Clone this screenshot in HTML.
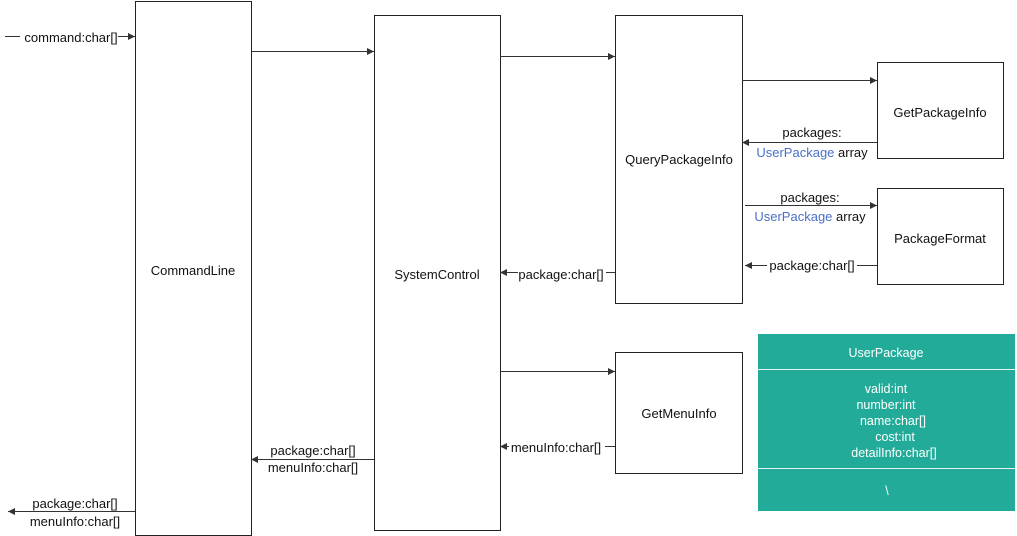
<!DOCTYPE html>
<html><head><meta charset="utf-8"><style>
html,body{margin:0;padding:0;background:#fff;width:1017px;height:536px;overflow:hidden}
text{font-family:"Liberation Sans",sans-serif;font-size:13px;fill:#111}
</style></head><body>
<svg width="1017" height="536" xmlns="http://www.w3.org/2000/svg">
<defs><marker id="a" markerWidth="8" markerHeight="8" refX="7" refY="4" orient="auto" markerUnits="userSpaceOnUse"><path d="M0,0.5 L7,4 L0,7.5 Z" fill="#333"/></marker></defs>
<g fill="#fff" stroke="#222" stroke-width="1">
<rect x="135.5" y="1.5" width="116" height="534"/>
<rect x="374.5" y="15.5" width="126" height="515"/>
<rect x="615.5" y="15.5" width="127" height="288"/>
<rect x="877.5" y="62.5" width="126" height="96"/>
<rect x="877.5" y="188.5" width="126" height="96"/>
<rect x="615.5" y="352.5" width="127" height="121"/>
</g>
<g text-anchor="middle">
<text x="193" y="275">CommandLine</text>
<text x="437" y="279">SystemControl</text>
<text x="679" y="164">QueryPackageInfo</text>
<text x="940" y="117">GetPackageInfo</text>
<text x="940" y="243">PackageFormat</text>
<text x="679" y="418">GetMenuInfo</text>
</g>
<g stroke="#333" stroke-width="1" fill="none" marker-end="url(#a)">
<path d="M5,36.5 H135"/>
<path d="M251,51.5 H374"/>
<path d="M500,56.5 H615"/>
<path d="M742,80.5 H877"/>
<path d="M877,142.5 H742"/>
<path d="M745,205.5 H877"/>
<path d="M877,265.5 H745"/>
<path d="M615,272.5 H500"/>
<path d="M500,371.5 H615"/>
<path d="M615,446.5 H500"/>
<path d="M374,459.5 H251"/>
<path d="M135,511.5 H8"/>
</g>
<g text-anchor="middle">
<rect x="20" y="29" width="98" height="15" fill="#fff"/><text x="71" y="42">command:char[]</text>
<text x="812" y="137">packages:</text>
<text x="812" y="157"><tspan style="fill:#4a6fc9">UserPackage</tspan> array</text>
<text x="810" y="202">packages:</text>
<text x="810" y="221"><tspan style="fill:#4a6fc9">UserPackage</tspan> array</text>
<rect x="767" y="258" width="90" height="15" fill="#fff"/><text x="812" y="270">package:char[]</text>
<rect x="518" y="265" width="88" height="15" fill="#fff"/><text x="561" y="279">package:char[]</text>
<rect x="509" y="439" width="96" height="15" fill="#fff"/><text x="556" y="452">menuInfo:char[]</text>
<text x="313" y="455">package:char[]</text>
<text x="313" y="472">menuInfo:char[]</text>
<text x="75" y="508">package:char[]</text>
<text x="75" y="526">menuInfo:char[]</text>
</g>
<g>
<rect x="758" y="334" width="257" height="177" fill="#22ab99"/>
<line x1="758" y1="369.5" x2="1015" y2="369.5" stroke="#e8f6f3" stroke-width="1"/>
<line x1="758" y1="468.5" x2="1015" y2="468.5" stroke="#e8f6f3" stroke-width="1"/>
<g text-anchor="middle">
<text x="886" y="357" style="fill:#fff;font-size:12.5px">UserPackage</text>
<text x="886" y="393" style="fill:#fff;font-size:12.5px">valid:int</text>
<text x="886" y="409" style="fill:#fff;font-size:12.5px">number:int</text>
<text x="893" y="425" style="fill:#fff;font-size:12.5px">name:char[]</text>
<text x="895" y="441" style="fill:#fff;font-size:12.5px">cost:int</text>
<text x="894" y="457" style="fill:#fff;font-size:12.5px">detailInfo:char[]</text>
<text x="887" y="495" style="fill:#fff;font-size:12.5px">\</text>
</g>
</g>
</svg>
</body></html>
